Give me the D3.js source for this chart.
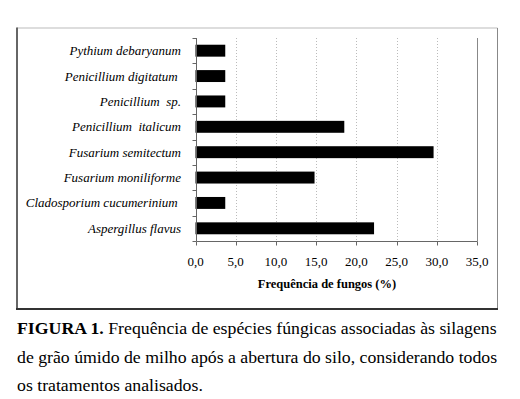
<!DOCTYPE html>
<html lang="pt">
<head>
  <meta charset="UTF-8" />
  <title>Frequência de fungos</title>
  <script src="https://d3js.org/d3.v7.min.js"></script>
  <style>
    body { margin: 0; background: #fff; }
    svg { display: block; }
  </style>
</head>
<body>
  <svg id="chart" width="520" height="399"></svg>

  <script>
    // categories from top to bottom, values in %
    const species = [
      "Pythium debaryanum",
      "Penicillium digitatum ",
      "Penicillium  sp.",
      "Penicillium  italicum",
      "Fusarium semitectum",
      "Fusarium moniliforme",
      "Cladosporium cucumerinium ",
      "Aspergillus flavus"
    ];
    const frequency = [3.7, 3.7, 3.7, 18.5, 29.6, 14.8, 3.7, 22.2];
    const xTicks = [0, 5, 10, 15, 20, 25, 30, 35];
    const xTitle = "Frequência de fungos (%)";
    const captionLines = [
      ["FIGURA 1.", " Frequência de espécies fúngicas associadas às silagens"],
      ["", "de grão úmido de milho após a abertura do silo, considerando todos"],
      ["", "os tratamentos analisados."]
    ];

    const serif = '"Liberation Serif", serif';
    const svg = d3.select("#chart");

    // outer frame (light top/right, heavier left/bottom)
    svg.append("line").attr("x1", 17).attr("x2", 497.5).attr("y1", 28).attr("y2", 28)
      .attr("stroke", "#bbb").attr("stroke-width", 1);
    svg.append("line").attr("x1", 497.5).attr("x2", 497.5).attr("y1", 28).attr("y2", 309)
      .attr("stroke", "#888").attr("stroke-width", 1);
    svg.append("line").attr("x1", 17).attr("x2", 17).attr("y1", 27.5).attr("y2", 310)
      .attr("stroke", "#666").attr("stroke-width", 2);
    svg.append("line").attr("x1", 16).attr("x2", 498).attr("y1", 309).attr("y2", 309)
      .attr("stroke", "#333").attr("stroke-width", 2);

    const x = d3.scaleLinear().domain([0, 35]).range([195.5, 477]);
    const y = d3.scaleBand().domain(species).range([38, 241])
      .paddingInner(0.53).paddingOuter(0.265);

    // dotted gridlines
    svg.selectAll(".grid")
      .data(xTicks.filter(t => t > 0 && t < 35))
      .enter().append("line")
      .attr("x1", d => Math.round(x(d)) + 0.5).attr("x2", d => Math.round(x(d)) + 0.5)
      .attr("y1", 38).attr("y2", 241)
      .attr("stroke", "#bbb").attr("stroke-dasharray", "1,2");

    // right plot border
    svg.append("line")
      .attr("x1", Math.round(x(35)) + 0.5).attr("x2", Math.round(x(35)) + 0.5)
      .attr("y1", 38).attr("y2", 241)
      .attr("stroke", "#888");

    // bars
    svg.selectAll(".bar")
      .data(species)
      .enter().append("rect")
      .attr("x", x(0))
      .attr("y", d => y(d))
      .attr("width", (d, i) => x(frequency[i]) - x(0))
      .attr("height", y.bandwidth())
      .attr("fill", "#000");

    // y axis line and ticks at band boundaries
    const x0 = Math.round(x(0)) + 0.5;
    svg.append("line").attr("x1", x0).attr("x2", x0).attr("y1", 38).attr("y2", 241)
      .attr("stroke", "#666");
    svg.selectAll(".ytick")
      .data(d3.range(species.length + 1))
      .enter().append("line")
      .attr("x1", x0 - 4).attr("x2", x0)
      .attr("y1", i => Math.round(y.range()[0] + i * y.step()) + 0.5)
      .attr("y2", i => Math.round(y.range()[0] + i * y.step()) + 0.5)
      .attr("stroke", "#666");

    // category labels
    svg.selectAll(".cat")
      .data(species)
      .enter().append("text")
      .attr("x", 181)
      .attr("y", d => y(d) + y.bandwidth() / 2)
      .attr("dy", "0.35em")
      .attr("text-anchor", "end")
      .attr("xml:space", "preserve")
      .style("font-family", serif)
      .style("font-style", "italic")
      .style("font-size", "13px")
      .text(d => d);

    // x axis line, ticks, labels
    svg.append("line").attr("x1", x0).attr("x2", Math.round(x(35)) + 0.5)
      .attr("y1", 241.5).attr("y2", 241.5).attr("stroke", "#666");
    svg.selectAll(".xtick")
      .data(xTicks)
      .enter().append("line")
      .attr("x1", d => Math.round(x(d)) + 0.5).attr("x2", d => Math.round(x(d)) + 0.5)
      .attr("y1", 241.5).attr("y2", 245.5)
      .attr("stroke", "#666");
    svg.selectAll(".tick-label")
      .data(xTicks)
      .enter().append("text")
      .attr("x", d => x(d))
      .attr("y", 266)
      .attr("text-anchor", "middle")
      .style("font-family", serif)
      .style("font-size", "13px")
      .text(d => d.toFixed(1).replace(".", ","));

    svg.append("text")
      .attr("x", 327)
      .attr("y", 288)
      .attr("text-anchor", "middle")
      .style("font-family", serif)
      .style("font-size", "12.5px")
      .style("font-weight", "bold")
      .text(xTitle);

    // figure caption, sized so the first line spans the frame width
    const capTexts = captionLines.map((parts, i) => {
      const t = svg.append("text")
        .attr("x", 17)
        .attr("y", 334 + i * 28.5)
        .attr("xml:space", "preserve")
        .style("font-family", serif)
        .style("font-size", "16px");
      if (parts[0]) t.append("tspan").style("font-weight", "bold").text(parts[0]);
      t.append("tspan").text(parts[1]);
      return t;
    });
    const fit = 16 * 480 / capTexts[0].node().getComputedTextLength();
    capTexts.forEach(t => t.style("font-size", fit + "px"));
  </script>
</body>
</html>
